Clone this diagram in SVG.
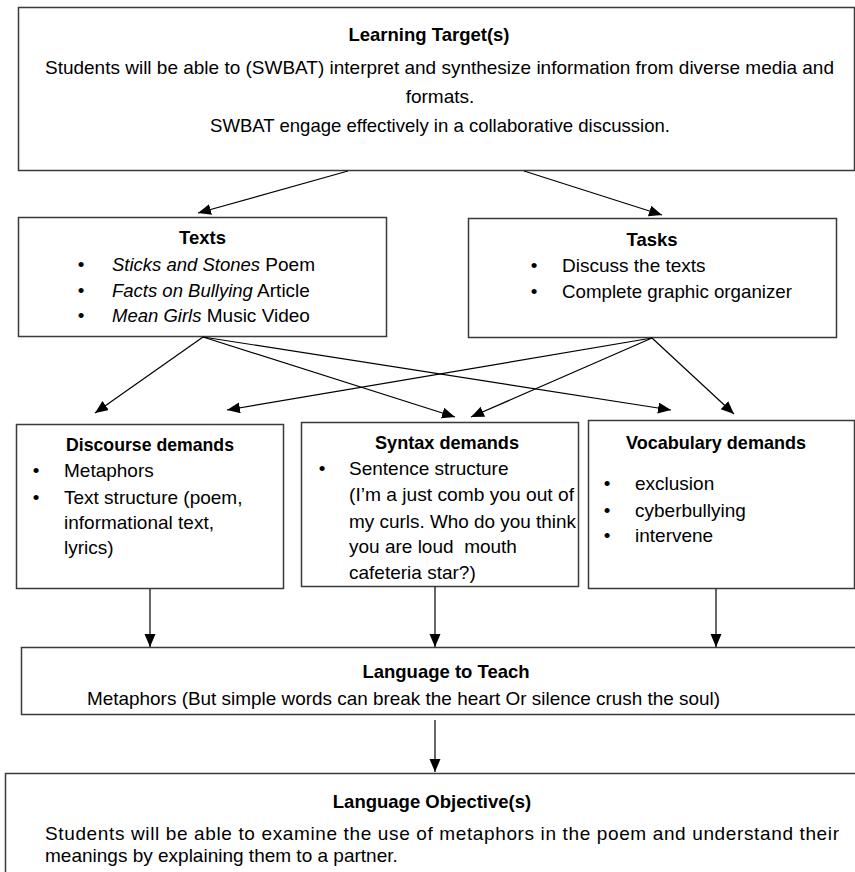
<svg xmlns="http://www.w3.org/2000/svg" width="855" height="872" viewBox="0 0 855 872">
<style>
  .box { fill: #ffffff; stroke: #3a3a3a; stroke-width: 1.5; }
  .t { font-family: "Liberation Sans", Arial, sans-serif; font-size: 19px; fill: #000; }
  .b { font-weight: bold; font-size: 18.5px; }
  .i { font-style: italic; font-size: 18.5px; }
  .c { text-anchor: middle; }
  .conn line { stroke: #000; stroke-width: 1.2; marker-end: url(#ah); }
</style>
<defs>
  <marker id="ah" markerUnits="userSpaceOnUse" markerWidth="14" markerHeight="12" refX="13" refY="5.5" orient="auto">
    <path d="M0,0 L13,5.5 L0,11 Z" fill="#000"/>
  </marker>
</defs>
<rect width="855" height="872" fill="#ffffff"/>

<g id="learning-target">
  <rect class="box" x="18.5" y="7.5" width="836" height="163"/>
  <text class="t b c" x="429" y="41">Learning Target(s)</text>
  <text class="t" x="45" y="74" textLength="789" lengthAdjust="spacingAndGlyphs">Students will be able to (SWBAT) interpret and synthesize information from diverse media and</text>
  <text class="t c" x="440" y="103">formats.</text>
  <text class="t c" x="440" y="132" textLength="460" lengthAdjust="spacingAndGlyphs">SWBAT engage effectively in a collaborative discussion.</text>
</g>

<g id="texts">
  <rect class="box" x="18.5" y="217.5" width="368" height="119"/>
  <text class="t b c" x="202.5" y="244">Texts</text>
  <text class="t c" x="81" y="271">•</text>
  <text class="t" x="112" y="271"><tspan class="i">Sticks and Stones</tspan> Poem</text>
  <text class="t c" x="81" y="297">•</text>
  <text class="t" x="112" y="297"><tspan class="i">Facts on Bullying</tspan> Article</text>
  <text class="t c" x="81" y="322">•</text>
  <text class="t" x="112" y="322"><tspan class="i">Mean Girls</tspan> Music Video</text>
</g>

<g id="tasks">
  <rect class="box" x="468.5" y="218.5" width="368" height="119"/>
  <text class="t b c" x="652" y="246">Tasks</text>
  <text class="t c" x="534" y="272">•</text>
  <text class="t" x="562" y="272">Discuss the texts</text>
  <text class="t c" x="534" y="298">•</text>
  <text class="t" x="562" y="298" textLength="230" lengthAdjust="spacingAndGlyphs">Complete graphic organizer</text>
</g>

<g id="discourse-demands">
  <rect class="box" x="16.5" y="424.5" width="267" height="164"/>
  <text class="t b c" x="150" y="451" textLength="168" lengthAdjust="spacingAndGlyphs">Discourse demands</text>
  <text class="t c" x="36" y="477">•</text>
  <text class="t" x="64" y="477">Metaphors</text>
  <text class="t c" x="36" y="504">•</text>
  <text class="t" x="64" y="504">Text structure (poem,</text>
  <text class="t" x="64" y="529">informational text,</text>
  <text class="t" x="64" y="554">lyrics)</text>
</g>

<g id="syntax-demands">
  <rect class="box" x="301.5" y="422.5" width="277" height="164"/>
  <text class="t b c" x="447" y="449" textLength="144" lengthAdjust="spacingAndGlyphs">Syntax demands</text>
  <text class="t c" x="322" y="475">•</text>
  <text class="t" x="349" y="475">Sentence structure</text>
  <text class="t" x="349" y="501" textLength="225" lengthAdjust="spacingAndGlyphs">(I’m a just comb you out of</text>
  <text class="t" x="349" y="528" textLength="227" lengthAdjust="spacingAndGlyphs">my curls. Who do you think</text>
  <text class="t" x="349" y="553" style="white-space:pre">you are loud  mouth</text>
  <text class="t" x="349" y="579">cafeteria star?)</text>
</g>

<g id="vocabulary-demands">
  <rect class="box" x="588.5" y="420.5" width="266" height="168"/>
  <text class="t b c" x="716" y="449" textLength="180" lengthAdjust="spacingAndGlyphs">Vocabulary demands</text>
  <text class="t c" x="607" y="490">•</text>
  <text class="t" x="635" y="490">exclusion</text>
  <text class="t c" x="607" y="517">•</text>
  <text class="t" x="635" y="517">cyberbullying</text>
  <text class="t c" x="607" y="542">•</text>
  <text class="t" x="635" y="542">intervene</text>
</g>

<g id="language-to-teach">
  <rect class="box" x="21.5" y="647.5" width="840" height="67"/>
  <text class="t b c" x="446" y="678">Language to Teach</text>
  <text class="t" x="87" y="705" textLength="633" lengthAdjust="spacingAndGlyphs">Metaphors (But simple words can break the heart Or silence crush the soul)</text>
</g>

<g id="language-objectives">
  <rect class="box" x="5.5" y="773.5" width="860" height="110"/>
  <text class="t b c" x="432" y="808">Language Objective(s)</text>
  <text class="t" x="45" y="840" textLength="794" lengthAdjust="spacing">Students will be able to examine the use of metaphors in the poem and understand their</text>
  <text class="t" x="45" y="862">meanings by explaining them to a partner.</text>
</g>

<g id="connectors" class="conn">
  <line x1="348" y1="171" x2="198" y2="213"/>
  <line x1="524" y1="171" x2="662" y2="215"/>
  <line x1="203" y1="337" x2="95" y2="413"/>
  <line x1="203" y1="337" x2="455" y2="417"/>
  <line x1="203" y1="337" x2="671" y2="410"/>
  <line x1="652" y1="338" x2="227" y2="410"/>
  <line x1="652" y1="338" x2="471" y2="417"/>
  <line x1="652" y1="338" x2="734" y2="414"/>
  <line x1="150" y1="589" x2="150" y2="647"/>
  <line x1="435" y1="587" x2="435" y2="647"/>
  <line x1="716" y1="589" x2="716" y2="647"/>
  <line x1="435" y1="720" x2="435" y2="772"/>
</g>
</svg>
